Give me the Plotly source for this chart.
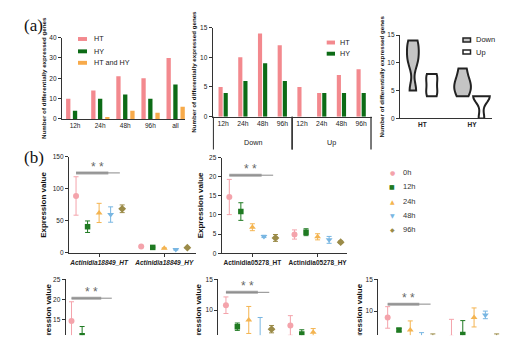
import numpy as np
import plotly.graph_objects as go

W, H = 531, 353
def fx(p): return p / W
def fy(p): return 1 - p / H

# ---------------- data ----------------
bar_cats = ["12h", "24h", "48h", "96h", "all"]
bar_HT = [10, 14, 21, 20, 30]
bar_HY = [4, 10, 12, 10, 17]
bar_both = [0, 1, 4, 3, 6]

dir_groups = ["Down"] * 4 + ["Up"] * 4
dir_times = ["12h", "24h", "48h", "96h", "12h", "24h", "48h", "96h"]
dir_HT = [5, 10, 14, 12, 5, 4, 7, 8]
dir_HY = [4, 6, 9, 6, 0, 4, 4, 4]

vio_cats = ["HT", "HY"]

times = ["0h", "12h", "24h", "48h", "96h"]

# Actinidia18849
g1_HT_mean = [89, 41, 62.5, 60, 69]
g1_HT_sd = [30, 9, 15, 12, 6]
g1_HY_mean = [10, 8.7, 7.2, 5.3, 8.2]
g1_HY_sd = [1, 0.8, 0.8, 0.8, 0.8]
# Actinidia05278
g2_HT_mean = [14.7, 10.9, 6.8, 4.4, 4.0]
g2_HT_sd = [4.6, 2.3, 0.9, 0.3, 0.9]
g2_HY_mean = [4.9, 5.5, 4.3, 3.5, 2.9]
g2_HY_sd = [1.2, 0.9, 0.8, 0.9, 0.3]
# lower row (partly cut off)
g3_HT_mean = [14.6, 10.9, 6.7, 4.4, 4.0]
g3_HT_sd = [4.8, 2.3, 0.9, 0.3, 0.9]
g3_HY_mean = [4.9, 5.5, 4.3, 3.5, 2.9]
g3_HY_sd = [1.2, 0.9, 0.8, 0.9, 0.3]
g4_HT_mean = [10.8, 7.3, 8.4, 5.6, 6.9]
g4_HT_sd = [1.35, 0.6, 2.2, 3.2, 0.6]
g4_HY_mean = [7.5, 6.1, 6.4, 4.5, 4.0]
g4_HY_sd = [1.6, 0.7, 0.6, 0.8, 0.6]
g5_HT_mean = [9.0, 7.0, 7.0, 5.4, 5.0]
g5_HT_sd = [1.7, 0.25, 1.45, 1.2, 1.4]
g5_HY_mean = [5.8, 6.3, 9.0, 9.4, 5.2]
g5_HY_sd = [2.9, 2.2, 1.5, 0.6, 1.2]

tick_g1 = ["<b><i>Actinidia18849_HT</i></b>", "<b><i>Actinidia18849_HY</i></b>"]
tick_g2 = ["<b>Actinidia05278_HT</b>", "<b>Actinidia05278_HY</b>"]

sig_levels = [125, 20.4, 20.3, 12.9, 11.1]

# ---------------- styles ----------------
C_HT = "#F3898E"
C_HY = "#0C6B16"
C_BOTH = "#F7AA4A"
T_COLORS = ["#F4A3AB", "#1F7A22", "#F4B450", "#78B6E2", "#9B8B48"]
T_SYMBOLS = ["circle", "square", "triangle-up", "triangle-down", "diamond"]
T_GLYPHS = ["●", "■", "▲", "▼", "◆"]
AX = "#333333"
FONT = "Liberation Sans, Arial, sans-serif"

fig = go.Figure()

# ---- chart 1: grouped bars ----
for vals, col, off in [(bar_HT, C_HT, -0.357), (bar_HY, C_HY, -0.087), (bar_both, C_BOTH, 0.2)]:
    fig.add_bar(x=bar_cats, y=vals, marker=dict(color=col, line=dict(width=0)),
                width=0.172, offset=off, xaxis="x", yaxis="y", showlegend=False)

# ---- chart 2: Down / Up bars ----
dir_pos = np.arange(len(dir_times))
for vals, col, off in [(dir_HT, C_HT, -0.235), (dir_HY, C_HY, 0.025)]:
    fig.add_bar(x=dir_pos, y=vals, marker=dict(color=col, line=dict(width=0)),
                width=0.21, offset=off, xaxis="x2", yaxis="y2", showlegend=False)

# ---- chart 3: violins ----
for grp, fill, bw in [("Down", "#C4C4C4", 1.5), ("Up", "#FFFFFF", 1.2)]:
    vx, vy = [], []
    for cat, vals in zip(vio_cats, [dir_HT, dir_HY]):
        for g, v in zip(dir_groups, vals):
            if g == grp:
                vx.append(cat)
                vy.append(v)
    fig.add_violin(x=vx, y=vy, name=grp, fillcolor=fill, line=dict(color="#222", width=2),
                   spanmode="hard", bandwidth=bw, points=False, box_visible=False,
                   meanline_visible=False, xaxis="x3", yaxis="y3", showlegend=False, hoverinfo="skip")

# ---- panel (b): expression scatter ----
pos_HT = np.arange(5)
pos_HY = np.arange(5) + 5.65
panels = [
    (4, g1_HT_mean, g1_HT_sd, g1_HY_mean, g1_HY_sd),
    (5, g2_HT_mean, g2_HT_sd, g2_HY_mean, g2_HY_sd),
    (6, g3_HT_mean, g3_HT_sd, g3_HY_mean, g3_HY_sd),
    (7, g4_HT_mean, g4_HT_sd, g4_HY_mean, g4_HY_sd),
    (8, g5_HT_mean, g5_HT_sd, g5_HY_mean, g5_HY_sd),
]
for k, htm, hts, hym, hys in panels:
    for t in range(5):
        fig.add_scatter(
            x=[pos_HT[t], pos_HY[t]], y=[htm[t], hym[t]], mode="markers",
            marker=dict(color=T_COLORS[t], symbol=T_SYMBOLS[t], size=6 if t != 1 else 5.5,
                        line=dict(width=0)),
            error_y=dict(type="data", array=[hts[t], hys[t]], color=T_COLORS[t], thickness=1, width=2.5),
            xaxis=f"x{k}", yaxis=f"y{k}", showlegend=False, name=times[t])

# ---------------- layout ----------------
def xax(dom, rng, **kw):
    d = dict(domain=[fx(dom[0]), fx(dom[1])], range=rng, showline=True, linecolor=AX, linewidth=1.3,
             showgrid=False, zeroline=False, ticks="", tickangle=0,
             tickfont=dict(size=6.5, color="#222", family=FONT))
    d.update(kw)
    return d

def yax(dom, rng, dtick, title=None, tsize=6.2, standoff=None, **kw):
    d = dict(domain=[fy(dom[1]), fy(dom[0])], range=rng, dtick=dtick, showline=True, linecolor=AX,
             linewidth=1.3, showgrid=False, zeroline=False, ticks="outside", ticklen=3, tickwidth=1,
             tickcolor=AX, tickfont=dict(size=6.5, color="#222", family=FONT))
    if title:
        d["title"] = dict(text=title, font=dict(size=tsize, color="#111", family=FONT))
        if standoff is not None:
            d["title"]["standoff"] = standoff
    d.update(kw)
    return d

ytitle_a = "<b>Number of differentially expressed genes</b>"
ytitle_b = "<b>Expression value</b>"

layout = dict(
    width=W, height=H, margin=dict(l=0, r=0, t=0, b=0),
    paper_bgcolor="white", plot_bgcolor="rgba(0,0,0,0)",
    barmode="overlay", violinmode="group", violingap=0.24, violingroupgap=0.12,
    font=dict(family=FONT, color="#222"),
    showlegend=False,
    xaxis=xax((62, 185), [-0.52, 4.38], anchor="y", type="category"),
    yaxis=yax((34.3, 117.3), [0, 40], 10, ytitle_a, anchor="x", standoff=2),
    xaxis2=xax((212.7, 372), [-0.53, 7.55], anchor="y2", tickvals=dir_pos, ticktext=dir_times,
               tickfont=dict(size=6.8, color="#222", family=FONT)),
    yaxis2=yax((24, 115), [0, 15], 5, ytitle_a, anchor="x2", standoff=2),
    xaxis3=xax((400, 491.7), [-0.449, 1.396], anchor="y3", type="category",
               tickvals=vio_cats, ticktext=["<b>HT</b>", "<b>HY</b>"]),
    yaxis3=yax((31.7, 116.7), [0, 15], 5, ytitle_a, anchor="x3", standoff=2),
    xaxis4=xax((69, 196), [-0.61, 10.4], anchor="y4", tickvals=[2, 7.65], ticktext=tick_g1,
               ticks="outside", ticklen=3, tickcolor=AX),
    yaxis4=yax((156, 254), [0, 150], 50, ytitle_b, tsize=8, anchor="x4", standoff=4),
    xaxis5=xax((221.7, 347), [-0.66, 10.2], anchor="y5", tickvals=[2, 7.65], ticktext=tick_g2,
               ticks="outside", ticklen=3, tickcolor=AX),
    yaxis5=yax((156.7, 254.3), [0, 25], 5, ytitle_b, tsize=8, anchor="x5", standoff=4),
    xaxis6=xax((65.7, 180.7), [-0.55, 10.3], anchor="y6", showline=False, showticklabels=False),
    yaxis6=yax((281, 338), [11.0, 25], 5, anchor="x6"),
    xaxis7=xax((218.3, 343.4), [-0.67, 10.3], anchor="y7", showline=False, showticklabels=False),
    yaxis7=yax((281, 338), [5.9, 15], 5, anchor="x7"),
    xaxis8=xax((378.3, 504), [-0.83, 10.3], anchor="y8", showline=False, showticklabels=False),
    yaxis8=yax((281, 338), [6.18, 15], 5, anchor="x8"),
)
fig.update_layout(**layout)

shapes = []
annos = []

def txt(text, x, y, size, color="#222", xanchor="center", **kw):
    d = dict(text=text, x=fx(x), y=fy(y), xref="paper", yref="paper", xanchor=xanchor,
             yanchor="middle", showarrow=False, font=dict(size=size, color=color))
    d.update(kw)
    return d

# panel labels
for lab, x, y in [("(a)", 33, 22), ("(b)", 34, 157)]:
    annos.append(txt(lab, x, y, 17, "#111", borderpad=0,
                     font=dict(size=17, family="Liberation Serif, Times New Roman, serif", color="#111")))

# chart 2 group labels and dividers
grp_names = list(dict.fromkeys(dir_groups))
for gname in grp_names:
    idx = [i for i, g in enumerate(dir_groups) if g == gname]
    annos.append(dict(text=gname, x=(idx[0] + idx[-1]) / 2, y=fy(141.7), xref="x2", yref="paper",
                      xanchor="center", yanchor="middle", showarrow=False, font=dict(size=7.2, color="#222")))
    for b in (idx[0] - 0.5, idx[-1] + 0.5):
        shapes.append(dict(type="line", xref="x2", yref="paper", x0=b, x1=b, y0=fy(115), y1=fy(148.5),
                           line=dict(color=AX, width=1.3)))

# legend chart 1
for i, (lab, col) in enumerate([("HT", C_HT), ("HY", C_HY), ("HT and HY", C_BOTH)]):
    yc = [35.7, 48.3, 60][i]
    shapes.append(dict(type="rect", xref="paper", yref="paper", x0=fx(78), x1=fx(87),
                       y0=fy(yc + 2), y1=fy(yc - 2), fillcolor=col, line=dict(width=0)))
    annos.append(txt(lab, 91.5, yc, 7.2, xanchor="left"))
# legend chart 2
for i, (lab, col) in enumerate([("HT", C_HT), ("HY", C_HY)]):
    yc = [39.3, 50.7][i]
    shapes.append(dict(type="rect", xref="paper", yref="paper", x0=fx(326.7), x1=fx(335),
                       y0=fy(yc + 2), y1=fy(yc - 2), fillcolor=col, line=dict(width=0)))
    annos.append(txt(lab, 338, yc, 7.2, xanchor="left"))
# legend chart 3
for i, (lab, col) in enumerate([("Down", "#C4C4C4"), ("Up", "#FFFFFF")]):
    yc = [36.7, 49][i]
    shapes.append(dict(type="rect", xref="paper", yref="paper", x0=fx(463), x1=fx(470.5),
                       y0=fy(yc + 2), y1=fy(yc - 2), fillcolor=col, line=dict(width=1.5, color="#222")))
    annos.append(txt(lab, 474, yc, 7.5, xanchor="left"))
# legend panel b
for i in range(5):
    yc = [172.3, 186.7, 201.2, 215.6, 230][i]
    annos.append(txt(T_GLYPHS[i], 392.3, yc, 6, T_COLORS[i],
                     font=dict(size=6, color=T_COLORS[i], family="DejaVu Sans")))
    annos.append(txt(times[i], 401, yc, 7.5, "#333", xanchor="left"))

# significance bars
for (k, *_), lvl in zip(panels, sig_levels):
    shapes.append(dict(type="line", xref=f"x{k}", yref=f"y{k}", x0=0, x1=2.8, y0=lvl, y1=lvl,
                       line=dict(color="#A8A8A8", width=3)))
    shapes.append(dict(type="line", xref=f"x{k}", yref=f"y{k}", x0=0, x1=3.8, y0=lvl, y1=lvl,
                       line=dict(color="#8A8A8A", width=1)))
    annos.append(dict(text="* *", x=1.85, y=lvl, xref=f"x{k}", yref=f"y{k}", xanchor="center",
                      yanchor="bottom", yshift=-3, showarrow=False, font=dict(size=12, color="#666")))

# y titles for lower row (lower part hidden by the page cut)
for x in [48.3, 198.3, 360]:
    annos.append(txt(ytitle_b, x, 319, 8, "#111", textangle=-90))
# white band at bottom (page cut)
annos.append(dict(text=" ", x=0, y=fy(338), xref="paper", yref="paper", xanchor="left", yanchor="top",
                  width=W + 10, height=22, bgcolor="white", borderpad=0, showarrow=False))

fig.update_layout(shapes=shapes, annotations=annos)
fig.write_html("out.html")
